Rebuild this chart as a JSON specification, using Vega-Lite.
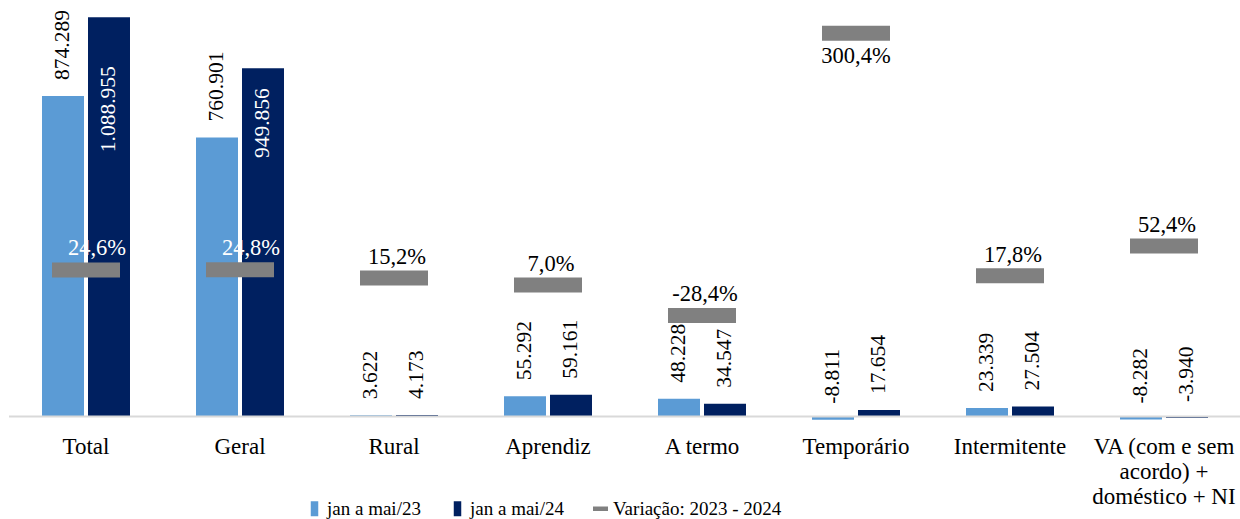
{
  "$schema": "https://vega.github.io/schema/vega-lite/v6.json",
  "width": 1232,
  "height": 421,
  "autosize": {"type": "none"},
  "padding": {"left": 9, "top": 0, "right": 0, "bottom": 98},
  "config": {
    "font": "Liberation Serif",
    "view": {"stroke": null},
    "locale": {"number": {"decimal": ",", "thousands": ".", "grouping": [3], "currency": ["R$", ""], "minus": "-"}}
  },
  "datasets": {
    "barras": [
      {"cat": "Total", "serie": "jan a mai/23", "valor": 874289},
      {"cat": "Total", "serie": "jan a mai/24", "valor": 1088955},
      {"cat": "Geral", "serie": "jan a mai/23", "valor": 760901},
      {"cat": "Geral", "serie": "jan a mai/24", "valor": 949856},
      {"cat": "Rural", "serie": "jan a mai/23", "valor": 3622},
      {"cat": "Rural", "serie": "jan a mai/24", "valor": 4173},
      {"cat": "Aprendiz", "serie": "jan a mai/23", "valor": 55292},
      {"cat": "Aprendiz", "serie": "jan a mai/24", "valor": 59161},
      {"cat": "A termo", "serie": "jan a mai/23", "valor": 48228},
      {"cat": "A termo", "serie": "jan a mai/24", "valor": 34547},
      {"cat": "Temporário", "serie": "jan a mai/23", "valor": -8811},
      {"cat": "Temporário", "serie": "jan a mai/24", "valor": 17654},
      {"cat": "Intermitente", "serie": "jan a mai/23", "valor": 23339},
      {"cat": "Intermitente", "serie": "jan a mai/24", "valor": 27504},
      {"cat": "VA (com e sem acordo) + doméstico + NI", "serie": "jan a mai/23", "valor": -8282},
      {"cat": "VA (com e sem acordo) + doméstico + NI", "serie": "jan a mai/24", "valor": -3940}
    ],
    "variacao": [
      {"cat": "Total", "var": 0.246},
      {"cat": "Geral", "var": 0.248},
      {"cat": "Rural", "var": 0.152},
      {"cat": "Aprendiz", "var": 0.070},
      {"cat": "A termo", "var": -0.284},
      {"cat": "Temporário", "var": 3.004},
      {"cat": "Intermitente", "var": 0.178},
      {"cat": "VA (com e sem acordo) + doméstico + NI", "var": 0.524}
    ]
  },
  "layer": [
    {
      "data": {"name": "barras"},
      "mark": {"type": "bar"},
      "encoding": {
        "x": {
          "field": "cat", "type": "nominal",
          "scale": {"domain": ["Total", "Geral", "Rural", "Aprendiz", "A termo", "Temporário", "Intermitente", "VA (com e sem acordo) + doméstico + NI"], "paddingInner": 0.4286, "paddingOuter": 0.2143},
          "axis": {
            "title": null, "domain": false, "ticks": false, "tickSize": 0, "labelAngle": 0,
            "labelFontSize": 23, "labelColor": "#000000", "labelPadding": 14, "labelBaseline": "top",
            "labelLineHeight": 25, "labelOverlap": false, "labelLimit": 300,
            "labelExpr": "datum.value == 'VA (com e sem acordo) + doméstico + NI' ? ['VA (com e sem', 'acordo) +', 'doméstico + NI'] : datum.value"
          }
        },
        "xOffset": {"field": "serie", "type": "nominal", "scale": {"paddingInner": 0.087, "paddingOuter": 0}},
        "y": {"field": "valor", "type": "quantitative", "scale": {"domain": [-12272, 1135806], "nice": false, "zero": false}, "axis": null},
        "color": {
          "field": "serie", "type": "nominal",
          "scale": {"domain": ["jan a mai/23", "jan a mai/24", "Variação: 2023 - 2024"], "range": ["#5B9BD5", "#002060", "#808080"]},
          "legend": {
            "title": null, "orient": "none", "direction": "horizontal", "columns": 3,
            "legendX": 296, "legendY": 499, "padding": 0, "columnPadding": 27,
            "labelFontSize": 19, "labelColor": "#000000", "labelOffset": 3, "labelLimit": 300,
            "symbolSize": 225, "symbolStrokeWidth": 0,
            "encode": {
              "symbols": {
                "update": {
                  "shape": {"signal": "datum.value == 'Variação: 2023 - 2024' ? 'M-1,-0.3H1V0.3H-1Z' : 'M-0.5,-1H0.5V1H-0.5Z'"},
                  "fill": {"scale": "color", "field": "value"},
                  "strokeWidth": {"value": 0}
                }
              }
            }
          }
        }
      }
    },
    {
      "data": {"values": [{}]},
      "mark": {"type": "rule", "color": "#D9D9D9", "strokeWidth": 2},
      "encoding": {
        "y": {"datum": 0, "type": "quantitative", "scale": {"domain": [-12272, 1135806], "nice": false, "zero": false}, "axis": null}
      }
    },
    {
      "data": {"name": "barras"},
      "transform": [{"filter": "!(datum.serie == 'jan a mai/24' && (datum.cat == 'Total' || datum.cat == 'Geral'))"}],
      "mark": {"type": "text", "angle": 270, "align": "left", "baseline": "middle", "dx": 16, "fontSize": 21.5, "color": "#000000"},
      "encoding": {
        "x": {"field": "cat", "type": "nominal"},
        "xOffset": {"field": "serie", "type": "nominal"},
        "y": {"field": "valor", "type": "quantitative", "scale": {"domain": [-12272, 1135806], "nice": false, "zero": false}, "axis": null},
        "text": {"field": "valor", "type": "quantitative", "format": ",d"}
      }
    },
    {
      "data": {"name": "barras"},
      "transform": [{"filter": "datum.serie == 'jan a mai/24' && datum.cat == 'Total'"}],
      "mark": {"type": "text", "angle": 270, "align": "right", "baseline": "middle", "dx": -49, "fontSize": 21.5, "color": "#FFFFFF"},
      "encoding": {
        "x": {"field": "cat", "type": "nominal"},
        "xOffset": {"field": "serie", "type": "nominal"},
        "y": {"field": "valor", "type": "quantitative", "scale": {"domain": [-12272, 1135806], "nice": false, "zero": false}, "axis": null},
        "text": {"field": "valor", "type": "quantitative", "format": ",d"}
      }
    },
    {
      "data": {"name": "barras"},
      "transform": [{"filter": "datum.serie == 'jan a mai/24' && datum.cat == 'Geral'"}],
      "mark": {"type": "text", "angle": 270, "align": "right", "baseline": "middle", "dx": -20, "fontSize": 21.5, "color": "#FFFFFF"},
      "encoding": {
        "x": {"field": "cat", "type": "nominal"},
        "xOffset": {"field": "serie", "type": "nominal"},
        "y": {"field": "valor", "type": "quantitative", "scale": {"domain": [-12272, 1135806], "nice": false, "zero": false}, "axis": null},
        "text": {"field": "valor", "type": "quantitative", "format": ",d"}
      }
    },
    {
      "data": {"name": "variacao"},
      "mark": {"type": "tick", "thickness": 15, "size": 68, "opacity": 1},
      "encoding": {
        "x": {"field": "cat", "type": "nominal"},
        "y": {"field": "var", "type": "quantitative", "scale": {"domain": [-1.513, 3.39], "nice": false, "zero": false}, "axis": null},
        "color": {"datum": "Variação: 2023 - 2024"}
      }
    },
    {
      "data": {"name": "variacao"},
      "transform": [{"filter": "datum.var < 2 && datum.cat != 'Total' && datum.cat != 'Geral'"}],
      "mark": {"type": "text", "baseline": "alphabetic", "dy": -14, "dx": 3, "fontSize": 22.5, "color": "#000000"},
      "encoding": {
        "x": {"field": "cat", "type": "nominal"},
        "y": {"field": "var", "type": "quantitative", "scale": {"domain": [-1.513, 3.39], "nice": false, "zero": false}, "axis": null},
        "text": {"field": "var", "type": "quantitative", "format": ".1%"}
      }
    },
    {
      "data": {"name": "variacao"},
      "transform": [{"filter": "datum.cat == 'Total' || datum.cat == 'Geral'"}],
      "mark": {"type": "text", "baseline": "alphabetic", "dy": -15, "dx": 11, "fontSize": 22.5, "color": "#FFFFFF"},
      "encoding": {
        "x": {"field": "cat", "type": "nominal"},
        "y": {"field": "var", "type": "quantitative", "scale": {"domain": [-1.513, 3.39], "nice": false, "zero": false}, "axis": null},
        "text": {"field": "var", "type": "quantitative", "format": ".1%"}
      }
    },
    {
      "data": {"name": "variacao"},
      "transform": [{"filter": "datum.var >= 2"}],
      "mark": {"type": "text", "baseline": "alphabetic", "dy": 30, "fontSize": 22.5, "color": "#000000"},
      "encoding": {
        "x": {"field": "cat", "type": "nominal"},
        "y": {"field": "var", "type": "quantitative", "scale": {"domain": [-1.513, 3.39], "nice": false, "zero": false}, "axis": null},
        "text": {"field": "var", "type": "quantitative", "format": ".1%"}
      }
    }
  ],
  "resolve": {"scale": {"y": "independent"}}
}
